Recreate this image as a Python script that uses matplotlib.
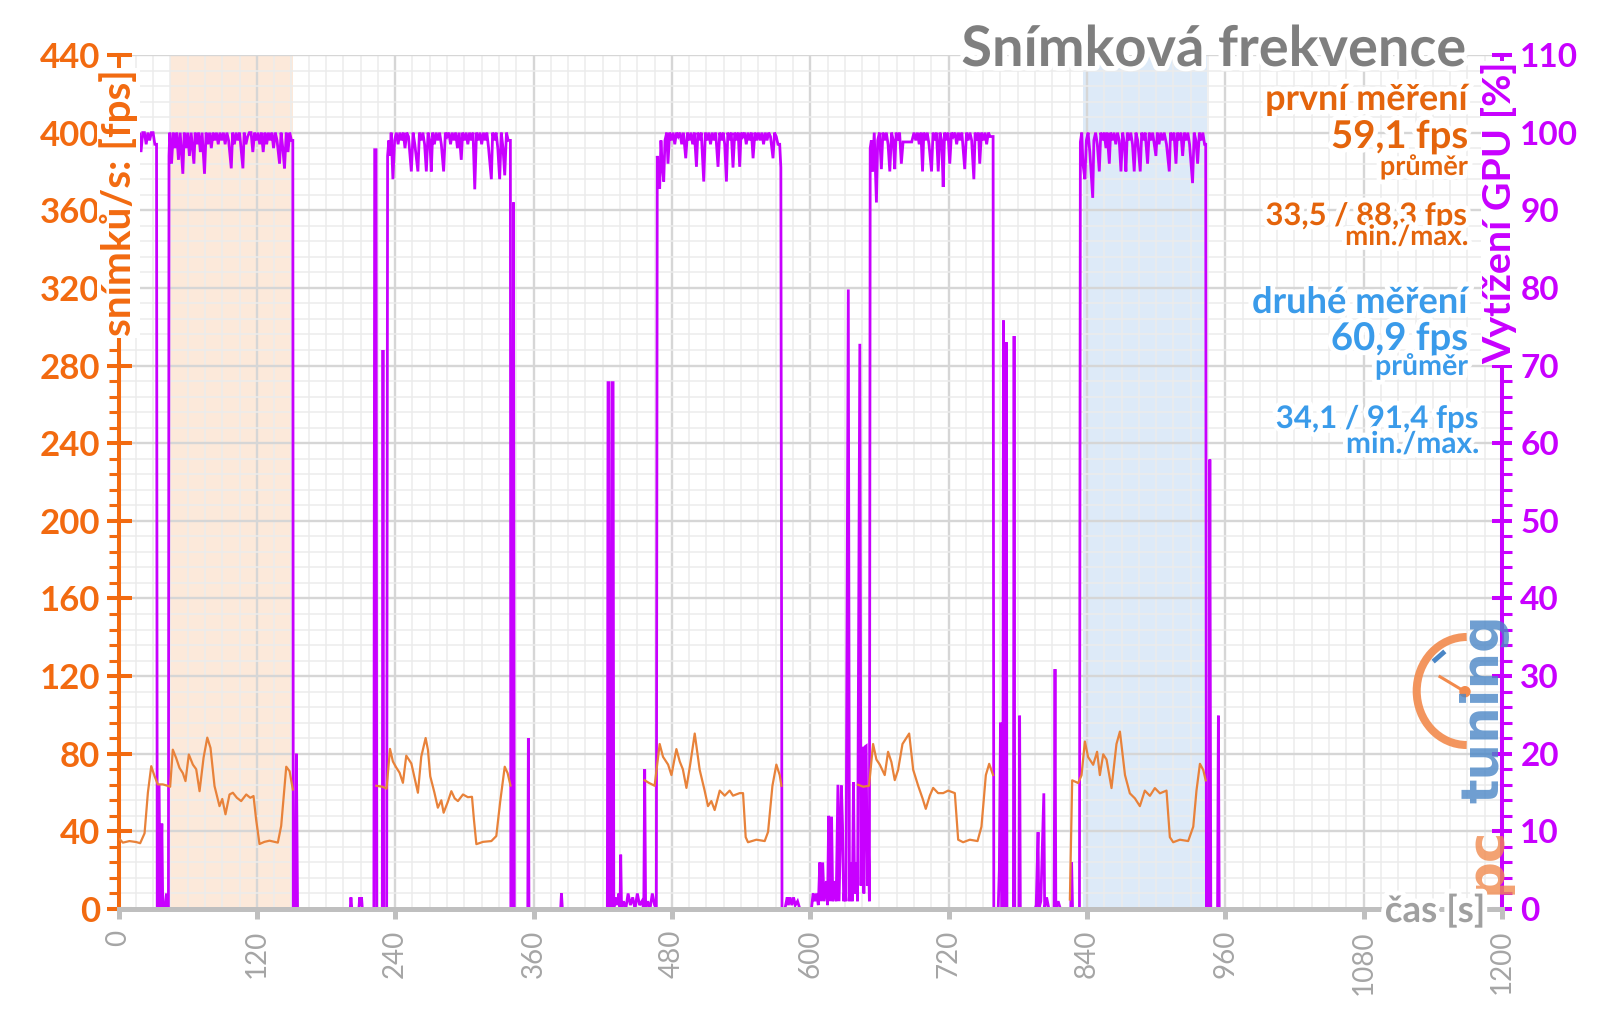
import matplotlib
matplotlib.use("Agg")
import matplotlib.pyplot as plt
from matplotlib import patheffects as pe
from matplotlib.ticker import MultipleLocator
from matplotlib.patches import Arc, Ellipse
from matplotlib.lines import Line2D

plt.rcParams['font.family'] = ['Lato', 'DejaVu Sans']

# ---------------- data ----------------
x_ticks = [0, 120, 240, 360, 480, 600, 720, 840, 960, 1080, 1200]
fps_ticks = [0, 40, 80, 120, 160, 200, 240, 280, 320, 360, 400, 440]
gpu_ticks = [0, 10, 20, 30, 40, 50, 60, 70, 80, 90, 100, 110]

first_span = (44.3, 151.2)
second_span = (836.7, 943.8)

# frame rate (fps) of the five runs
fps_run1 = [(1, 36), (3.8, 34.2), (9.5, 35), (15.3, 34.5), (18.8, 33.9), (22.6, 39), (25.5, 60),
            (28.4, 73.6), (31.3, 68.4), (34.1, 64.2), (38.4, 64.2), (41.4, 63.7), (44.8, 63),
            (47.1, 82.1), (50, 77.8), (52.9, 72.7), (55.8, 70), (58.1, 65.9), (61, 79.6),
            (64.5, 74.4), (67.4, 72), (70.3, 60.7), (73.8, 78), (77, 88.3), (79.8, 83),
            (83.3, 63.3), (87.6, 53), (90, 56.7), (92.8, 48.8), (96.3, 59), (99.2, 59.9),
            (102.7, 57.3), (106.4, 55.6), (110.8, 59), (114.3, 57.3), (117.1, 58.2), (119.4, 46),
            (122.3, 33.5), (126.6, 34.6), (131, 35.2), (135.3, 34.6), (138.2, 34.2), (141.1, 42.8),
            (145.5, 73.3), (148.4, 71), (151.2, 61.6)]
fps_run2 = [(223.6, 63.5), (229, 63), (232.5, 62), (235.5, 82.5), (238, 76), (240.8, 73),
            (243.8, 70.2), (246.7, 65), (249.6, 79), (254, 75), (259.7, 59.9), (262.6, 78.5),
            (266.4, 88.1), (268.4, 82), (270.4, 68.4), (274, 60), (277, 52.2), (280, 56),
            (282, 49.6), (285.5, 55), (288.7, 60.7), (291.6, 57), (294.4, 55.6), (298.8, 59),
            (303, 57.6), (306.6, 57.8), (308.3, 46), (310.4, 33.4), (316.2, 34.6), (323.4, 35),
            (327.7, 37.6), (331, 55), (335, 73.3), (337.5, 70), (340, 63.6)]
fps_run3 = [(456.4, 66.3), (460, 65), (465, 63.5), (469.4, 85), (472.3, 78.4), (476.7, 74.4),
            (479.6, 69), (483.9, 82.4), (486.8, 76), (489.5, 72), (492.6, 62.4), (496, 75),
            (499.8, 90.4), (504.1, 71.7), (508.4, 61), (511.3, 53), (514.2, 55.6), (517.1, 51),
            (521.5, 61), (525.8, 58.4), (530.1, 61), (533, 58.4), (538.8, 59.7), (541.7, 59.7),
            (544, 37), (546, 34.4), (553.3, 35.7), (560.5, 35), (563.4, 39.7), (567.2, 63.5),
            (570.6, 74.4), (573.5, 69), (575, 63.5)]
fps_run4 = [(641.5, 64), (646, 63), (651, 63.5), (654.5, 85), (657.4, 77), (660.3, 74.4),
            (664.6, 69), (667.5, 81), (670.4, 75.7), (673.3, 66.4), (676.2, 71.7), (680, 85),
            (685.8, 90.4), (689.3, 71.7), (693.6, 63.5), (697.4, 57), (700.2, 51.6), (703.7, 58.4),
            (706.6, 62.4), (710.9, 59.7), (715.3, 59.7), (719.6, 61), (725.4, 59.7), (728.3, 35.7),
            (732.6, 34.4), (738.4, 35.7), (745.1, 35), (748.5, 42.4), (752.3, 69), (755.2, 74.8),
            (758.6, 69)]
fps_run5 = [(825.2, 4.9), (827.2, 66.3), (832.4, 64.9), (835.3, 68.9), (838.2, 86.3), (841, 78.3),
            (845.4, 74.3), (848.8, 81), (851.2, 69), (854.1, 79.7), (857, 77), (861.3, 62.3),
            (865.6, 85), (868.6, 91.4), (873, 69), (877.2, 59.6), (881.6, 57), (885.9, 53),
            (890.2, 61), (894.6, 58.3), (898.9, 62.3), (903.3, 59.6), (909, 61), (911.9, 37),
            (914.8, 34.4), (920.6, 35.7), (927.8, 35), (932.2, 42.4), (935, 61), (938, 74.8),
            (940.9, 71.6), (943, 66.3)]

# GPU utilisation (%)
gpu_load_a = [(0, 99), (1.5, 100), (3, 99), (4.5, 100), (6, 99.5), (7.5, 98.5), (9, 100), (10.5, 99),
              (12, 100), (13.5, 98.5), (15, 100), (16.5, 99), (18, 100), (19.5, 97.5), (21, 100),
              (22.5, 100), (24, 98.5), (25.5, 100), (27, 99), (28.5, 100), (30, 100), (31.5, 98.5),
              (33, 98.5)]
gpu_idle_a = [(33.6, 0), (34.5, 0), (35, 16), (35.6, 9), (36.2, 0), (37.6, 11), (38.4, 0), (40, 0),
              (41.6, 2), (42.6, 0), (43.3, 0)]
gpu_load_b = [(43.8, 97), (44.5, 100), (46, 96), (47.5, 100), (49, 98), (50.5, 100), (52, 96.5),
              (53.5, 100), (55.8, 94.7), (57, 100), (58.5, 98), (60, 100), (61.5, 97), (63, 100),
              (65.4, 96), (66.5, 100), (68, 98.5), (69.5, 100), (71, 97.5), (72.5, 100), (74.6, 94.7),
              (76, 100), (77.5, 98.5), (79, 100), (80.5, 98), (82, 100), (83.5, 99), (85, 100),
              (86.5, 98.5), (88, 100), (89.5, 99), (91, 100), (92.5, 98.5), (94, 100), (95.5, 99),
              (97.8, 95.4), (99, 100), (100.5, 98.5), (102, 100), (103.5, 99), (105, 100),
              (107.9, 95.4), (109, 100), (110.5, 98.5), (112, 99.5), (113.5, 100), (115, 100),
              (116.5, 97.5), (118, 100), (119.5, 99), (121, 100), (122.5, 98.5), (124, 100),
              (125.5, 97.5), (127, 100), (128.5, 98.5), (130, 100), (131.5, 99), (133, 100),
              (134.5, 98), (136, 100), (137.5, 99), (139.7, 96), (141, 100), (142.5, 98),
              (144, 95.4), (145.5, 100), (147, 97.5), (148.5, 100), (150, 99), (151.2, 99)]
gpu_idle_b = [(151.6, 0), (153.5, 0), (154.3, 20), (155.3, 0), (201, 0), (201.6, 1.5), (202.4, 0),
              (208.5, 0), (209.2, 1.5), (210, 0.5), (210.8, 1.5), (211.5, 0), (221.5, 0),
              (222.2, 97.8), (223.4, 97.8), (224, 0), (228.8, 0), (229.4, 72), (230, 0), (232.6, 0)]
gpu_load_c = [(233.4, 97), (234.5, 99), (235.5, 97), (236.5, 100), (238, 94), (239.5, 99), (241, 100),
              (242.5, 98.5), (244, 100), (245.5, 99), (247, 100), (248.5, 98), (250, 100),
              (251.5, 99.5), (254, 95), (255.5, 100), (257, 98.5), (259.7, 95), (261, 100),
              (262.5, 99), (264, 100), (265.5, 98.5), (267, 95), (268.5, 100), (270, 99),
              (271.3, 95), (272.5, 100), (274, 98.5), (275.5, 100), (277, 99), (278.5, 100),
              (280, 98.5), (282, 95), (283.5, 100), (285, 99.5), (286.5, 100), (288, 98.5),
              (289.5, 100), (291, 99), (292.5, 100), (294, 98), (295.5, 100), (297.3, 96.5),
              (298.5, 100), (300, 99), (301.5, 100), (303, 98.5), (304.5, 100), (306, 99),
              (307.5, 100), (309, 92.7), (310.5, 100), (312, 99), (313.5, 100), (315, 98.5),
              (316.5, 100), (318, 99), (319.5, 100), (321, 98), (323.4, 94), (324.5, 100),
              (326, 99), (327.5, 100), (329, 98), (330.6, 94), (332, 100), (333.5, 98),
              (335, 94.5), (336.5, 100), (338, 99), (339.9, 99)]
gpu_idle_c = [(340.3, 0), (341.8, 0), (342.6, 91), (343.3, 0), (355, 0), (355.5, 22), (356, 0),
              (383.5, 0), (384.2, 2), (385, 0), (424, 0), (424.6, 67.8), (425.4, 67.8), (426, 0),
              (427.6, 0), (428.2, 67.8), (429, 67.8), (429.6, 0), (431, 1.5), (432.5, 0.5), (434, 2),
              (435, 0), (435.6, 7), (436.3, 0), (438, 1), (440, 0), (442, 2), (444, 0.5), (446, 1.5),
              (448, 0), (450, 2), (452, 0.5), (454, 1), (455.6, 0), (456.4, 18), (457.2, 0),
              (459, 1), (461, 0), (463, 2), (465, 0.5), (466.5, 0)]
gpu_load_d = [(467.3, 97), (468, 95), (469.4, 92.8), (470.5, 99), (471.5, 96), (472.9, 93.7),
              (474, 99), (475.5, 100), (476.6, 96), (478, 100), (479.5, 99), (481, 100),
              (482.5, 98.5), (484, 100), (485.5, 99.5), (487, 100), (488.5, 98.5), (490, 100),
              (492, 96.7), (493.5, 100), (495, 99), (496.5, 100), (498, 98.5), (499.5, 100),
              (501.3, 95.6), (502.5, 100), (504, 99), (505.5, 100), (507.6, 93.7), (509, 100),
              (510.5, 99), (512, 100), (513.5, 98.5), (515, 100), (516.5, 99), (518, 100),
              (520, 95.6), (521.5, 100), (523, 99), (524.5, 100), (525.8, 98.5), (527.3, 93.7),
              (528.5, 100), (530, 99), (531.5, 100), (533, 95.5), (534.5, 100), (536, 99),
              (537.5, 100), (538.8, 95.6), (540, 100), (541.5, 99.5), (543, 100), (544.5, 98.5),
              (546, 100), (547.5, 99), (549, 100), (550.4, 96.7), (552, 100), (553.5, 99),
              (555, 100), (556.5, 99), (558, 100), (559.5, 98.5), (561, 100), (562.5, 99),
              (564, 100), (565.5, 99.5), (567.7, 96.7), (569, 100), (570.5, 99.5), (572, 98.5),
              (573.5, 98.5), (574.5, 95.5)]
gpu_idle_d = [(575.5, 0), (578, 0), (580, 1.5), (581, 0.5), (582.5, 1.5), (584, 0.5), (585.5, 1.5),
              (587, 0.5), (589, 1), (591, 0), (601, 0), (602.5, 2), (604, 1), (605.5, 2), (607, 0.5),
              (608.3, 6), (609.5, 1), (610.8, 6), (612, 1), (614, 3.6), (615, 0.5), (616, 12),
              (617, 1), (618.5, 11.9), (619.5, 1), (621, 3.6), (622.5, 1), (624, 16), (625, 1),
              (627, 15.9), (628, 10.7), (629, 1), (630, 3), (631, 1), (633, 79.8), (634, 1),
              (635, 6), (636.5, 1), (637.5, 16.3), (638.5, 2), (640, 6), (641, 1), (643, 72.8),
              (644, 3), (645.5, 20.9), (646.5, 2), (647.6, 20.9), (648.5, 21), (649.5, 3),
              (650.5, 8), (651.3, 1)]
gpu_load_e = [(652, 98), (653, 99), (654, 95), (655.5, 100), (657.4, 91), (658.5, 99), (660, 100),
              (661.7, 95.3), (663, 100), (664.5, 99), (666, 100), (667.5, 98.5), (669, 95),
              (670.5, 100), (672, 99), (673.3, 95.3), (674.5, 100), (676, 99), (677.5, 100),
              (679, 96), (680.5, 98.8), (688, 98.8), (690, 100), (691.5, 99), (693, 100),
              (694.5, 98.5), (696, 100), (697.4, 95), (698.5, 100), (700, 99), (701.5, 100),
              (703, 98.5), (705.2, 95), (706.5, 100), (708, 99), (709.5, 100), (711, 95),
              (712.5, 100), (714, 99), (715.3, 93), (716.5, 100), (718, 99), (719.5, 100),
              (721, 96), (722.5, 100), (724, 99.5), (725.5, 100), (727, 98.5), (728.5, 100),
              (730, 99), (731.5, 100), (734, 95.3), (735.5, 100), (737, 99), (738.5, 100),
              (740, 99), (741.9, 94), (743, 100), (744.5, 99), (746, 100), (747, 96), (748.5, 100),
              (750, 99), (751.5, 100), (753, 98.5), (754.5, 100), (756, 99.5), (758.6, 99.5)]
gpu_idle_e = [(759.2, 0), (763, 0), (764, 5), (765, 24), (766, 0), (767, 0), (767.6, 75.8),
              (768.2, 28), (769, 0), (770, 73), (770.6, 0), (776.2, 0), (776.8, 73.8), (777.4, 0),
              (781, 0), (781.6, 24.9), (782.2, 0), (795, 0), (796, 0.5), (797.6, 9.9), (798.2, 0),
              (800, 1), (802.6, 14.9), (803.3, 0), (805, 1.5), (807, 0), (811.5, 0), (812.3, 30.9),
              (813, 0), (815, 1), (817, 0), (826, 0), (826.7, 6), (827.5, 0), (833.5, 0)]
gpu_load_f = [(834.3, 98.8), (835.5, 100), (836.5, 96), (838.2, 94), (839.5, 99), (841, 100),
              (842.5, 97.5), (845, 91.6), (846, 99), (847.5, 100), (849, 98.5), (850.7, 95),
              (852, 100), (853.5, 99), (855, 100), (856.5, 98), (857.5, 100), (859.4, 96),
              (860.5, 100), (862, 99), (863.5, 100), (865, 98.5), (866.5, 100), (868, 99),
              (869.5, 95), (871, 100), (872.5, 98.5), (873.8, 95), (875, 100), (876.5, 99),
              (878, 100), (879.5, 98.5), (881, 95), (882.5, 100), (884, 99), (886.2, 95),
              (887.5, 100), (889, 99), (890.5, 100), (892.6, 96), (894, 100), (895.5, 99),
              (897, 100), (899.8, 97), (901, 100), (902.5, 98.5), (904, 100), (905.5, 99),
              (907, 100), (909, 98.5), (911.4, 95), (912.5, 100), (914, 99), (915.5, 100),
              (917.2, 96), (918.5, 100), (920, 99), (921.5, 100), (923, 97), (924.5, 100),
              (926, 99), (927.5, 100), (929, 98.5), (931.6, 93.5), (933, 100), (934.5, 99),
              (936, 96), (937.5, 100), (939, 99), (940.5, 100), (942, 98.5), (943, 98.5)]
gpu_idle_f = [(943.6, 0), (945.8, 0), (946.6, 57.9), (947.4, 0), (953.3, 0), (954, 24.9),
              (954.7, 0), (1080, 0)]

title_text = "Snímková frekvence"
first_lines = ["první měření", "59,1 fps", "průměr", "33,5 / 88,3 fps", "min./max."]
second_lines = ["druhé měření", "60,9 fps", "průměr", "34,1 / 91,4 fps", "min./max."]

# ---------------- style ----------------
ORANGE = '#F26A10'
ORANGE_TXT = '#E4640C'
ORANGE_LINE = '#E8823A'
MAG = '#C800FF'
BLUE_TXT = '#3A9BEA'
GRAY_T = '#7F7F7F'
GRAY_L = '#A5A5A5'

W, H = 1600, 1009
fig = plt.figure(figsize=(W / 100, H / 100), dpi=100)
fig.patch.set_facecolor('white')
X0, X1, Y0, Y1 = 118.5, 1502, 55, 909
ax = fig.add_axes([X0 / W, 1 - Y1 / H, (X1 - X0) / W, (Y1 - Y0) / H])
ax2 = ax.twinx()
ax.set_zorder(3)
ax2.set_zorder(2)
ax.patch.set_visible(False)
ax2.patch.set_visible(True)
ax2.patch.set_facecolor('white')

ax.set_xlim(0, 1200)
ax.set_ylim(0, 440)
ax2.set_ylim(0, 110)

# grid & shading on bottom axes
ax2.xaxis.set_visible(True)
ax2.set_axisbelow(True)
ax2.xaxis.set_major_locator(MultipleLocator(120))
ax2.xaxis.set_minor_locator(MultipleLocator(15))
ax2.yaxis.set_major_locator(MultipleLocator(10))
ax2.yaxis.set_minor_locator(MultipleLocator(2))
ax2.grid(True, which='minor', color='#ECECEC', lw=1.1)
ax2.grid(True, which='major', color='#D6D6D6', lw=1.7)
ax2.tick_params(axis='x', which='both', bottom=False, top=False, labelbottom=False, labeltop=False)
ax2.axvspan(*first_span, color='#FCE9DA', lw=0, zorder=0.2)
ax2.axvspan(*second_span, color='#DDEAF8', lw=0, zorder=0.2)

# lines
gpu_all = (gpu_load_a + gpu_idle_a + gpu_load_b + gpu_idle_b + gpu_load_c + gpu_idle_c +
           gpu_load_d + gpu_idle_d + gpu_load_e + gpu_idle_e + gpu_load_f + gpu_idle_f)
ax2.plot([p[0] for p in gpu_all], [p[1] for p in gpu_all], color=MAG, lw=2.0, zorder=3,
         solid_joinstyle='miter')
for run in [fps_run1, fps_run2, fps_run3, fps_run4, fps_run5]:
    ax.plot([p[0] for p in run], [p[1] for p in run], color=ORANGE_LINE, lw=1.6, zorder=4)

# spines
for s in ['top', 'right']:
    ax.spines[s].set_visible(False)
ax.spines['left'].set_color(ORANGE)
ax.spines['left'].set_linewidth(2.9)
ax.spines['bottom'].set_color('#BFBFBF')
ax.spines['bottom'].set_linewidth(3.6)
for s in ['top', 'left', 'bottom']:
    ax2.spines[s].set_visible(False)
ax2.spines['right'].set_color(MAG)
ax2.spines['right'].set_linewidth(2.9)

# ticks
ax.set_xticks(x_ticks)
ax.set_xticklabels([str(v) for v in x_ticks], rotation=90)
ax.set_yticks(fps_ticks)
ax.set_yticklabels([str(v) for v in fps_ticks], fontweight='bold')
ax.yaxis.set_minor_locator(MultipleLocator(8))
ax2.set_yticks(gpu_ticks)
ax2.set_yticklabels([str(v) for v in gpu_ticks], fontweight='bold')

ax.tick_params(axis='y', which='major', direction='inout', length=18, width=2.9,
               color=ORANGE, labelcolor=ORANGE, labelsize=25, pad=4.3)
ax.tick_params(axis='y', which='minor', direction='out', length=7.2, width=2.2, color=ORANGE)
ax.tick_params(axis='x', which='major', direction='out', length=7.2, width=3.6, color='#BFBFBF',
               labelcolor=GRAY_L, labelsize=20, pad=8)
ax.tick_params(axis='x', which='minor', length=0)
ax2.tick_params(axis='y', which='major', direction='inout', length=14.4, width=2.9,
                color=MAG, labelcolor=MAG, labelsize=24, pad=6)
ax2.tick_params(axis='y', which='minor', direction='out', length=7.2, width=2.2, color=MAG)

# ---------------- texts ----------------
glow = [pe.withStroke(linewidth=7, foreground='white')]
renderer = fig.canvas.get_renderer()


def px(x, y):
    return x / W, 1 - y / H


def fit(t, target, vertical=False):
    bb = t.get_window_extent(renderer)
    cur = bb.height if vertical else bb.width
    t.set_fontsize(t.get_fontsize() * target / cur)


t = fig.text(*px(1466, 66), title_text, ha='right', va='baseline', color=GRAY_T,
             fontweight='bold', fontsize=38, path_effects=glow, zorder=10)
fit(t, 505)

rows1 = [(110, 202, 24), (148, 137, 28), (175, 88, 19), (225, 202, 23), (245, 123, 19)]
for txt, (yb, wd, fs) in zip(first_lines, rows1):
    t = fig.text(*px(1468, yb), txt, ha='right', va='baseline', color=ORANGE_TXT,
                 fontweight='bold', fontsize=fs, path_effects=glow, zorder=10)
    fit(t, wd)
rows2 = [(313, 215, 24, 1468), (350, 137, 28, 1468), (375, 93, 19, 1468),
         (428, 203, 23, 1479), (453, 133, 19, 1479)]
for txt, (yb, wd, fs, xr) in zip(second_lines, rows2):
    t = fig.text(*px(xr, yb), txt, ha='right', va='baseline', color=BLUE_TXT,
                 fontweight='bold', fontsize=fs, path_effects=glow, zorder=10)
    fit(t, wd)

t = fig.text(*px(118.5, 203), "snímků/s: [fps]", rotation=90, ha='center', va='center',
             color=ORANGE, fontweight='bold', fontsize=26, zorder=10,
             bbox=dict(facecolor='white', edgecolor='none', pad=1.0))
fit(t, 267, vertical=True)
t = fig.text(*px(1499, 213), "Vytížení GPU [%]", rotation=90, ha='center', va='center',
             color=MAG, fontweight='bold', fontsize=24, zorder=10,
             bbox=dict(facecolor='white', edgecolor='none', pad=0.3))
fit(t, 302, vertical=True)
t = fig.text(*px(1435, 911), "čas [s]", ha='center', va='center', color='#A0A0A0',
             fontweight='bold', fontsize=24, path_effects=glow, zorder=10)
fit(t, 101)

# logo watermark
fig.text(*px(1484, 709), "tuning", rotation=90, ha='center', va='center', color='#4A86C6',
         fontweight='bold', fontsize=37, family='DejaVu Sans', alpha=0.8, zorder=6)
fig.text(*px(1487, 860), "pc", rotation=90, ha='center', va='center', color='#F08A4E',
         fontweight='bold', fontsize=37, family='DejaVu Sans', alpha=0.8, zorder=6)
cx, cy = px(1466.7, 691)
fig.add_artist(Arc((cx, cy), 100 / W, 108 / H, theta1=90, theta2=270, transform=fig.transFigure,
                   color='#F28A4C', lw=5.8, alpha=0.9, zorder=6))
fig.add_artist(Line2D([1440 / W, 1465 / W], [1 - 676.7 / H, 1 - 691.7 / H],
                      transform=fig.transFigure, color='#F28A4C', lw=2.2, zorder=6))
fig.add_artist(Ellipse((1465 / W, 1 - 691.7 / H), 10 / W, 10 / H, transform=fig.transFigure,
                       color='#F28A4C', zorder=6))
fig.add_artist(Line2D([1435 / W, 1443 / W], [1 - 660 / H, 1 - 653 / H],
                      transform=fig.transFigure, color='#4A86C6', lw=3.5, zorder=6))

fig.savefig('out.png', dpi=100, facecolor='white')
